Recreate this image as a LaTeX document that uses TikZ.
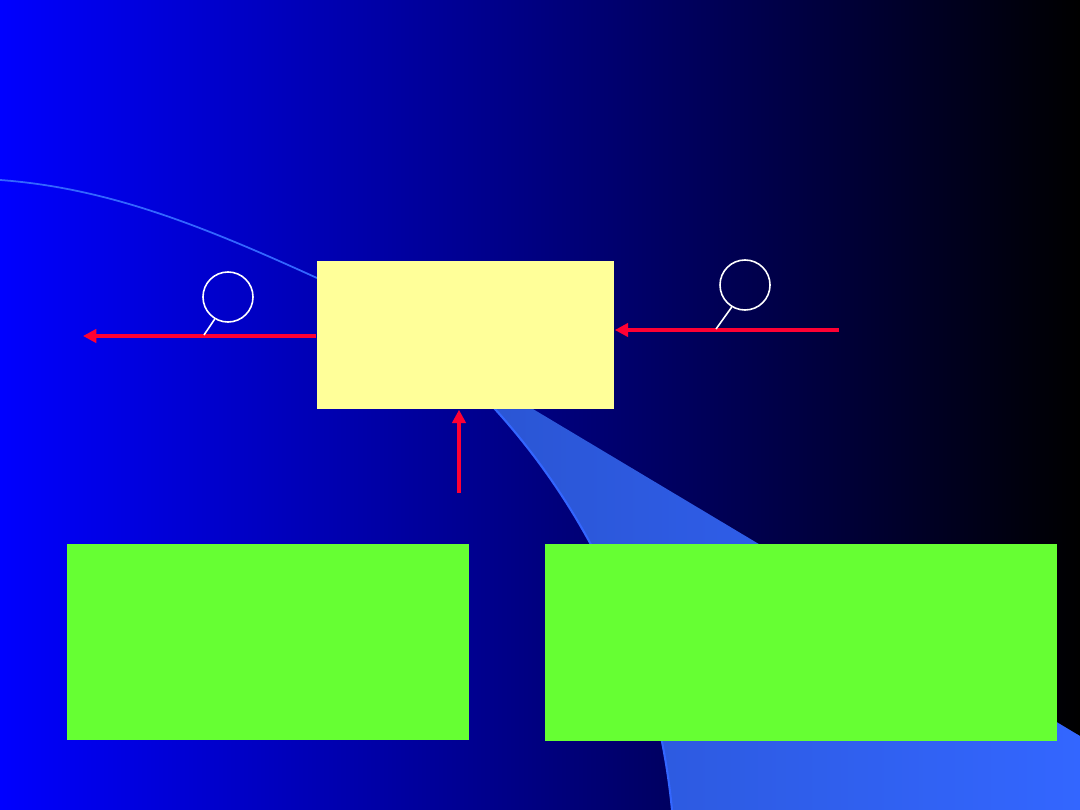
\documentclass[tikz,border=0pt]{standalone}
\usetikzlibrary{arrows.meta}
\usetikzlibrary{positioning}
\definecolor{hubyellow}{RGB}{255,255,153}
\definecolor{boxgreen}{RGB}{102,255,51}
\definecolor{arrowred}{RGB}{255,0,51}
\definecolor{arcblue}{RGB}{51,102,255}
\definecolor{wedgeleft}{RGB}{42,84,208}
\definecolor{wedgeright}{RGB}{51,102,255}

\begin{document}
\begin{tikzpicture}[x=0.01cm,y=-0.01cm,
    hub box/.style={rectangle,fill=hubyellow,inner sep=0pt,minimum width=2.97cm,minimum height=1.48cm},
    green box/.style={rectangle,fill=boxgreen,inner sep=0pt,minimum height=1.96cm},
    ring node/.style={circle,draw=white,line width=0.45pt,inner sep=0pt,minimum size=0.5cm},
    red arrow/.style={-{Triangle[length=3.8pt,width=3.8pt]},draw=arrowred,fill=arrowred,line width=1.15pt},
    tail line/.style={draw=white,line width=0.45pt}]
   \useasboundingbox (0,0) rectangle (1080,810);
   % slide background
   \shade[left color=blue,right color=black] (0,0) rectangle (1080,810);
   \draw[arcblue,line width=0.5pt] (0,180) .. controls (110,188) and (207,228) .. (317,278);
   \shade[left color=wedgeleft,right color=wedgeright] (672,810) arc[start angle=-5.5,end angle=-49,radius=697]
      -- (1080,736) -- (1080,810) -- cycle;
   \draw[arcblue,line width=0.6pt] (672,810) arc[start angle=-5.5,end angle=-49,radius=697];
   % boxes
   \node[hub box] (hub) at (465.5,335) {};
   \node[green box,minimum width=4.02cm] (left) at (268,642) {};
   \node[green box,minimum width=5.12cm] (right) at (801,642.5) {};
   % arrows
   \coordinate (outL) at (83,336);
   \coordinate (inR) at (839,330);
   \coordinate (inB) at (459,493);
   \draw[red arrow] (hub.west |- outL) -- (outL);
   \draw[red arrow] (inR) -- (hub.east |- inR);
   \draw[red arrow] (inB) -- (hub.south -| inB);
   % callouts
   \node[ring node] (ringL) at (228,297) {};
   \node[ring node] (ringR) at (745,285) {};
   \coordinate (tailL) at (204,335);
   \coordinate (tailR) at (716,329);
   \draw[tail line] (ringL.-121) -- (tailL);
   \draw[tail line] (ringR.-121) -- (tailR);
\end{tikzpicture}
\end{document}
